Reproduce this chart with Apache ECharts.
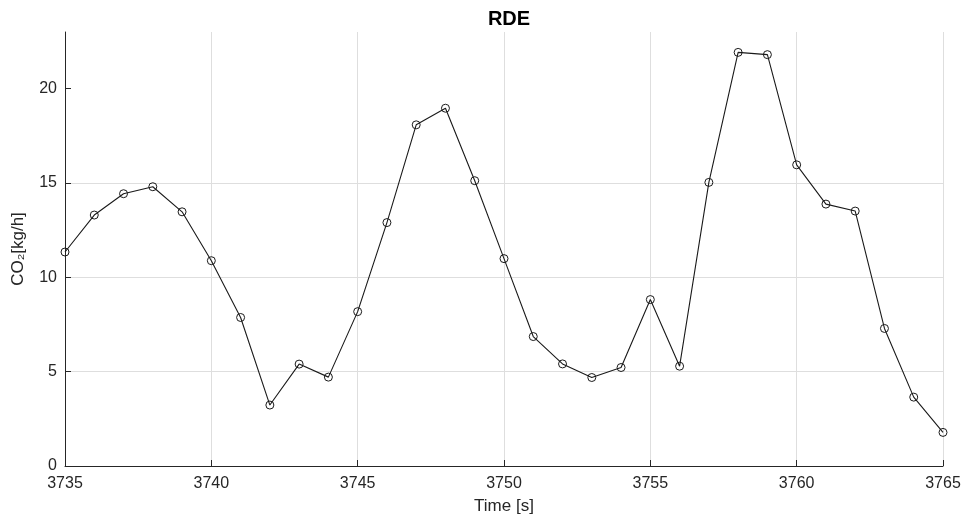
<!DOCTYPE html>
<html>
<head>
<meta charset="utf-8">
<script src="https://cdn.jsdelivr.net/npm/echarts@6/dist/echarts.min.js"></script>
<style>
html,body{margin:0;padding:0;background:#fff;}
#chart{width:964px;height:528px;}
</style>
</head>
<body>
<div id="chart"></div>
<script>
const timeS = [3735,3736,3737,3738,3739,3740,3741,3742,3743,3744,3745,3746,3747,3748,3749,3750,3751,3752,3753,3754,3755,3756,3757,3758,3759,3760,3761,3762,3763,3764,3765];
const co2 = [11.34,13.3,14.43,14.8,13.47,10.88,7.87,3.23,5.4,4.71,8.18,12.9,18.08,18.96,15.12,10.99,6.86,5.41,4.69,5.22,8.82,5.29,15.03,21.92,21.8,15.96,13.88,13.51,7.29,3.65,1.78];
const xTicks = [3735,3740,3745,3750,3755,3760,3765];
const yTicks = [0,5,10,15,20];

const txt = '#262626';
const font = 'Liberation Sans, Arial, Helvetica, sans-serif';
const chart = echarts.init(document.getElementById('chart'), null, {renderer:'canvas'});
chart.setOption({
  animation:false,
  backgroundColor:'#fff',
  title:{text:'RDE', left:504, top:4, textAlign:'center',
    textStyle:{fontFamily:font, fontSize:20, fontWeight:'bold', color:'#000'}},
  grid:{left:65, right:21, top:32, bottom:62, containLabel:false},
  xAxis:{type:'value', min:3735, max:3765, interval:5,
    name:'Time [s]', nameLocation:'middle', nameGap:32,
    nameTextStyle:{fontFamily:font, fontSize:17, color:txt},
    axisLine:{lineStyle:{color:txt, width:1}},
    axisTick:{inside:true, length:6, lineStyle:{color:txt}},
    axisLabel:{fontFamily:font, fontSize:16, color:txt, margin:10, customValues:xTicks,
      formatter:v=>String(v)},
    splitLine:{show:true, lineStyle:{color:'#dedede', width:1}}
  },
  yAxis:{type:'value', min:0, max:23, interval:5,
    name:'CO₂[kg/h]', nameLocation:'middle', nameGap:38,
    nameTextStyle:{fontFamily:font, fontSize:17, color:txt},
    axisLine:{show:true, lineStyle:{color:txt, width:1}},
    axisTick:{show:true, inside:true, length:6, lineStyle:{color:txt}, customValues:yTicks},
    axisLabel:{fontFamily:font, fontSize:16, color:txt, margin:8, customValues:yTicks,
      formatter:v=>String(v)},
    splitLine:{show:true, showMaxLine:false, lineStyle:{color:'#dedede', width:1}}
  },
  series:[{
    type:'line',
    data:timeS.map((t,i)=>[t,co2[i]]),
    symbol:'circle', symbolSize:8,
    lineStyle:{color:'#1a1a1a', width:1.1},
    itemStyle:{color:'rgba(0,0,0,0)', borderColor:'#1a1a1a', borderWidth:1},
    z:5
  }]
});
</script>
</body>
</html>
